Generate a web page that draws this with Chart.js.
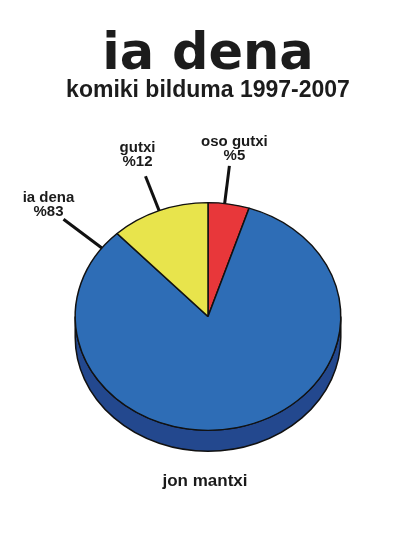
<!doctype html>
<html lang="eu">
<head>
<meta charset="utf-8">
<title>ia dena</title>
<script src="https://cdn.jsdelivr.net/npm/chart.js"></script>
<style>
  html, body { margin: 0; padding: 0; background: #fff; }
  #wrap { width: 400px; height: 544px; position: relative; }
</style>
</head>
<body>
<div id="wrap"><canvas id="chart"></canvas></div>
<script>
// data, clockwise from the top
const labels = ['oso gutxi', 'ia dena', 'gutxi']
const values = [5, 83, 12]
const colors = ['#e8373a', '#2e6db6', '#e8e44c']

const titleText = 'ia dena'
const subtitleText = 'komiki bilduma 1997-2007'
const footerText = 'jon mantxi'

const squash = 114 / 133 // ellipse height / width
const depth = 21

// flat pie -> tilted disc with a side wall
const tiltPlugin = {
  id: 'tilt',
  beforeDatasetsDraw(chart) {
    const ctx = chart.ctx
    const arc = chart.getDatasetMeta(0).data[0]
    const cx = arc.x, cy = arc.y, r = arc.outerRadius
    ctx.save()
    ctx.beginPath()
    ctx.moveTo(cx - r, cy)
    ctx.ellipse(cx, cy + depth, r, r * squash, 0, Math.PI, 0, true)
    ctx.lineTo(cx + r, cy)
    ctx.ellipse(cx, cy, r, r * squash, 0, 0, Math.PI, false)
    ctx.closePath()
    ctx.fillStyle = '#23488e'
    ctx.fill()
    ctx.lineWidth = 1.5
    ctx.strokeStyle = '#111'
    ctx.stroke()
    ctx.translate(cx, cy)
    ctx.scale(1, squash)
    ctx.translate(-cx, -cy)
  },
  afterDatasetsDraw(chart, args, opts) {
    const ctx = chart.ctx
    ctx.restore()
    const meta = chart.getDatasetMeta(0)
    ctx.save()
    ctx.strokeStyle = '#111'
    ctx.lineWidth = 3
    ctx.fillStyle = '#1a1a1a'
    ctx.font = 'bold 15px "Liberation Sans", Arial, sans-serif'
    ctx.textAlign = 'center'
    ctx.textBaseline = 'alphabetic'
    meta.data.forEach((arc, i) => {
      const p = opts.callouts[i]
      const a = arc.startAngle + p.at * (arc.endAngle - arc.startAngle)
      const x0 = arc.x + arc.outerRadius * Math.cos(a)
      const y0 = arc.y + arc.outerRadius * Math.sin(a) * squash
      const x1 = x0 + p.len * Math.cos(a)
      const y1 = y0 + p.len * Math.sin(a)
      ctx.beginPath()
      ctx.moveTo(x0, y0)
      ctx.lineTo(x1, y1)
      ctx.stroke()
      ctx.fillText(labels[i], x1 + p.dx, y1 + p.dy - 14)
      ctx.fillText('%' + values[i], x1 + p.dx, y1 + p.dy)
    })
    const arc = meta.data[0]
    ctx.font = 'bold 17px "Liberation Sans", Arial, sans-serif'
    ctx.fillText(footerText, arc.x - 3, arc.y + arc.outerRadius * squash + depth + 35)
    ctx.restore()
  }
}

new Chart(document.getElementById('chart'), {
  type: 'pie',
  data: {
    labels: labels,
    datasets: [{
      data: values,
      backgroundColor: colors,
      borderColor: '#111',
      borderWidth: 1.5,
      clip: false
    }]
  },
  options: {
    responsive: true,
    maintainAspectRatio: false,
    animation: false,
    events: [],
    layout: { padding: { left: 16, right: 0, top: 0, bottom: 94 } },
    plugins: {
      legend: { display: false },
      tooltip: { enabled: false },
      title: {
        display: true,
        text: titleText,
        color: '#1c1c1c',
        font: { family: '"DejaVu Sans", sans-serif', size: 51, weight: 'bold', lineHeight: 0.9 },
        padding: { top: 33, bottom: 0 }
      },
      subtitle: {
        display: true,
        text: subtitleText,
        color: '#1c1c1c',
        font: { family: '"Liberation Sans", Arial, sans-serif', size: 23, weight: 'bold', lineHeight: 1 },
        padding: { top: 0, bottom: 81 }
      },
      tilt: {
        callouts: [
          { at: 0.4, len: 38, dx: 5, dy: -6 },
          { at: 0.967, len: 48, dx: -15, dy: -3 },
          { at: 0.5, len: 37, dx: -8, dy: -10 }
        ]
      }
    }
  },
  plugins: [tiltPlugin]
})
</script>
</body>
</html>
